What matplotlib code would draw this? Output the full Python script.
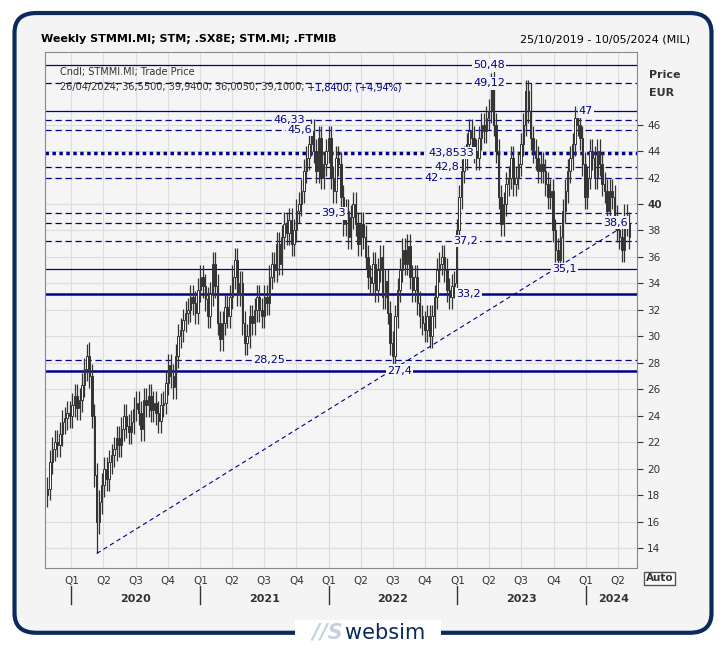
import numpy as np
import pandas as pd
import matplotlib
matplotlib.use("Agg")
import matplotlib.pyplot as plt
import matplotlib.dates as mdates
from matplotlib.patches import FancyBboxPatch

# --- weekly closes STMMI.MI (EUR) ---
closes = [
    18.5,
    20.5, 21.5, 22.0, 21.8,
    22.6, 23.5, 23.8, 24.2,
    24.0, 24.8, 25.5, 24.6, 25.2,
    26.3, 27.5, 28.5, 27.0,
    24.0, 19.5, 16.0, 17.5,
    18.8, 20.0, 19.2, 20.5, 21.0,
    21.5, 22.3, 21.8, 23.0,
    24.0, 23.2, 22.8, 23.5,
    24.5, 25.0, 24.2, 23.0, 25.2,
    24.8, 25.5, 24.4, 25.0,
    24.2, 23.6, 24.8, 25.0,
    26.5, 27.8, 27.0, 26.2, 28.5,
    30.0, 30.5, 31.2, 31.8,
    32.0, 33.0, 32.5, 31.8,
    33.5, 34.5, 33.8, 32.8, 31.5,
    33.2, 35.5, 33.8, 31.0,
    29.8, 31.0, 32.2, 31.5,
    33.0, 34.5, 35.8, 33.2, 34.0,
    31.0, 29.5, 30.0, 31.5,
    31.0, 32.0, 33.0, 32.0,
    31.5, 33.0, 32.5, 34.5, 35.5,
    35.0, 37.0, 35.5, 37.5,
    38.5, 37.8, 38.8, 37.0,
    38.0, 39.5, 40.0, 41.0, 42.5,
    43.5, 44.5, 45.5, 44.0,
    42.5, 45.0, 42.0, 43.0, 44.0,
    45.0, 42.0, 41.0, 43.5,
    43.0, 40.5, 38.5, 39.5,
    37.5, 39.0, 40.0, 38.5, 37.0,
    38.5, 37.5, 36.0, 34.5,
    34.0, 35.5, 33.5, 35.0,
    36.0, 33.0, 34.2, 31.8,
    29.5, 28.5, 31.5, 33.5, 35.0,
    36.5, 35.5, 36.8, 34.5,
    33.5, 34.5, 32.5, 31.5, 31.0,
    30.5, 31.5, 30.0, 31.5,
    33.0, 35.0, 35.5, 36.0,
    35.0, 33.5, 33.0, 33.8, 34.0,
    38.0, 40.5, 42.5, 43.5,
    44.5, 45.5, 45.0, 44.0,
    43.5, 45.0, 46.0, 45.5, 46.5,
    47.0, 49.0, 46.0, 44.0,
    40.5, 38.5, 40.0, 41.5,
    42.0, 43.5, 41.5, 42.0, 43.0,
    44.5, 46.0, 48.5, 47.0,
    45.0, 44.0, 43.5, 42.5,
    43.0, 42.5, 41.5, 40.5, 41.0,
    38.0, 36.5, 35.8, 37.5,
    39.5, 41.0, 42.5, 43.5,
    44.5, 46.5, 46.0, 45.0,
    43.0, 40.5, 42.0, 44.0,
    43.5, 42.0, 44.0, 43.0, 41.5,
    41.0, 39.5, 41.0, 40.5,
    39.0, 38.0, 37.5, 36.55, 39.1,
    38.5, 37.5,
]
first_open = 18.0
# notable wick extremes (week date -> value)
extreme_lows = {"2020-03-13": 13.6, "2022-07-01": 27.4, "2023-10-27": 35.0}
extreme_highs = {"2020-02-21": 29.6, "2023-04-14": 50.48, "2023-07-28": 49.12, "2023-12-15": 47.0}

# --- support / resistance levels ---
solid_levels = [50.48, 47.0, 35.1]
thick_levels = [33.2, 27.4]
dashed_levels = [49.12, 46.33, 45.6, 42.8, 42.0, 39.3, 38.6, 37.2, 28.25]
dotted_level = 43.8533
level_labels = [("50,48", "2023-04-01"), ("49,12", "2023-04-01"), ("47", "2024-01-01"),
                ("46,33", "2021-09-10"), ("45,6", "2021-10-10"), ("43,8533", "2022-12-15"),
                ("42,8", "2022-12-01"), ("42", "2022-10-20"), ("39,3", "2022-01-15"),
                ("38,6", "2024-03-25"), ("37,2", "2023-01-25"), ("35,1", "2023-11-01"),
                ("33,2", "2023-02-01"), ("28,25", "2021-07-15"), ("27,4", "2022-07-20")]
trend_start = ("2020-03-13", 13.6)
trend_end = ("2024-05-10", 38.7)

dates = pd.date_range("2019-10-25", periods=len(closes), freq="7D")
c = np.array(closes)
o = np.concatenate([[first_open], c[:-1]])
hi = np.maximum(o, c) + 0.9
lo = np.minimum(o, c) - 0.9
low_idx = dates.get_indexer(pd.to_datetime(list(extreme_lows)), method="nearest")
lo[low_idx] = list(extreme_lows.values())
high_idx = dates.get_indexer(pd.to_datetime(list(extreme_highs)), method="nearest")
hi[high_idx] = list(extreme_highs.values())

navy = "#00008B"
fig = plt.figure(figsize=(7.26, 6.51), dpi=100)
fig.patch.set_facecolor("white")
frame = FancyBboxPatch((0.02, 0.028), 0.96, 0.952, boxstyle="round,pad=0,rounding_size=0.03",
                       transform=fig.transFigure, facecolor="#f4f4f4",
                       edgecolor="#0b2a5c", linewidth=3, zorder=-10)
fig.patches.append(frame)
ax = fig.add_axes([0.062, 0.1275, 0.815, 0.793])
ax.set_facecolor("#f5f5f5")

xd = mdates.date2num(dates)
w = 4.0
ax.vlines(xd, lo, hi, color="#333333", lw=0.9, zorder=3)
for x, oo, cc in zip(xd, o, c):
    ax.bar(x, abs(cc - oo) or 0.1, bottom=min(oo, cc), width=w,
           color="white" if cc >= oo else "#333333", edgecolor="#333333", lw=0.7, zorder=4)

for v in solid_levels:
    ax.axhline(v, color=navy, lw=0.9, zorder=2)
for v in thick_levels:
    ax.axhline(v, color=navy, lw=1.8, zorder=2)
for v in dashed_levels:
    ax.axhline(v, color=navy, lw=0.9, ls=(0, (5, 3)), zorder=2)
ax.axhline(dotted_level, color=navy, lw=2.5, ls=(0, (1, 1)), zorder=2)
ax.plot(mdates.datestr2num([trend_start[0], trend_end[0]]), [trend_start[1], trend_end[1]],
        color=navy, lw=0.8, ls=(0, (4, 3)), zorder=5)

vals = {"50,48": 50.48, "49,12": 49.12, "47": 47.0, "46,33": 46.33, "45,6": 45.6,
        "43,8533": dotted_level, "42,8": 42.8, "42": 42.0, "39,3": 39.3, "38,6": 38.6,
        "37,2": 37.2, "35,1": 35.1, "33,2": 33.2, "28,25": 28.25, "27,4": 27.4}
for lab, d in level_labels:
    ax.text(mdates.datestr2num(d), vals[lab], lab, color=navy, fontsize=8, ha="center", va="center",
            zorder=6, bbox=dict(facecolor="#f5f5f5", edgecolor="none", pad=1))

ax.text(0.025, 0.955, "Cndl; STMMI.MI; Trade Price", transform=ax.transAxes, fontsize=7, color="#333333")
t1 = ax.text(0.025, 0.925, "26/04/2024; 36,5500; 39,9400; 36,0050; 39,1000;", transform=ax.transAxes,
             fontsize=7, color="#333333")
ax.annotate(" +1,8400; (+4,94%)", xy=(1, 0), xycoords=t1, fontsize=7, color=navy, va="bottom")

ax.set_ylim(12.5, 51.5)
ax.set_xlim(mdates.datestr2num("2019-10-18"), mdates.datestr2num("2024-05-24"))
ax.yaxis.tick_right()
ax.set_yticks(range(14, 47, 2))
ax.tick_params(axis="y", labelsize=7.5, colors="#333333", length=4)
for t in ax.get_yticklabels():
    if t.get_text() == "40":
        t.set_fontweight("bold")
qdates = pd.date_range("2020-01-01", "2024-04-01", freq="QS")
ax.set_xticks(mdates.date2num(qdates))
ax.set_xticklabels(["Q%d" % ((d.month - 1) // 3 + 1) for d in qdates], fontsize=7.5, color="#333333")
ax.tick_params(axis="x", length=0, pad=6)
ax.grid(True, color="#dddddd", lw=0.8, zorder=0)
for s in ax.spines.values():
    s.set_color("#888888")
for y in range(2020, 2025):
    x0 = mdates.datestr2num(f"{y}-01-01")
    ax.plot([x0, x0], [-0.07, -0.035], transform=ax.get_xaxis_transform(), color="#333333",
            lw=1, clip_on=False)
    xm = mdates.datestr2num(f"{y}-07-01") if y < 2024 else mdates.datestr2num("2024-03-20")
    ax.text(xm, -0.06, str(y), transform=ax.get_xaxis_transform(), ha="center", va="center",
            fontsize=8, fontweight="bold", color="#333333")

ax.text(1.02, 0.95, "Price", transform=ax.transAxes, fontsize=8, fontweight="bold", color="#333333")
ax.text(1.02, 0.915, "EUR", transform=ax.transAxes, fontsize=8, fontweight="bold", color="#333333")
ax.text(1.015, -0.01, "Auto", transform=ax.transAxes, fontsize=7.5, fontweight="bold", color="#333333",
        va="top", bbox=dict(facecolor="white", edgecolor="#555555", pad=1))

fig.text(0.057, 0.935, "Weekly STMMI.MI; STM; .SX8E; STM.MI; .FTMIB", fontsize=8, fontweight="bold")
fig.text(0.95, 0.935, "25/10/2019 - 10/05/2024 (MIL)", fontsize=8, ha="right")
fig.text(0.41, 0.028, "  //S ", fontsize=15, color="#c5d0e0", fontweight="bold", ha="left", va="center",
         style="italic", bbox=dict(facecolor="white", edgecolor="none", pad=2))
fig.text(0.475, 0.028, "websim  ", fontsize=15, color="#0b2a5c", ha="left", va="center",
         bbox=dict(facecolor="white", edgecolor="none", pad=2))

plt.savefig("out.png", dpi=100)
